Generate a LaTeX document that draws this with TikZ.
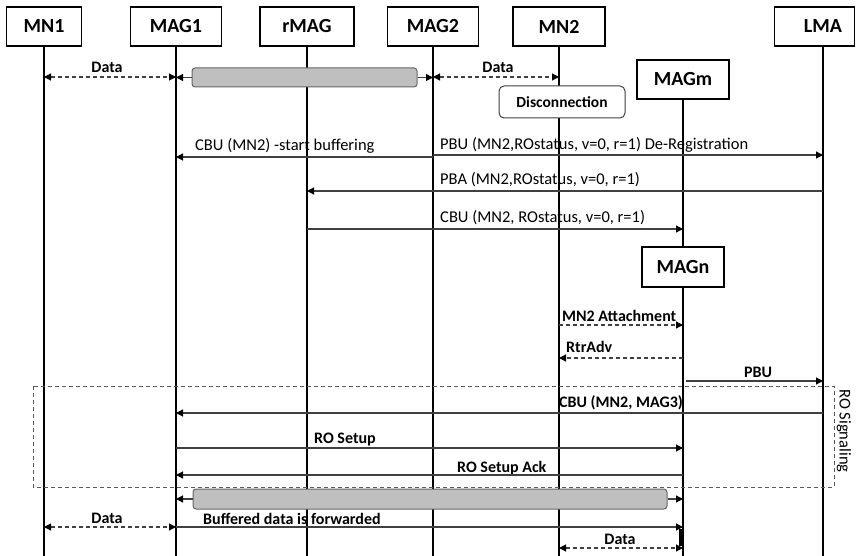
\documentclass[tikz,border=0pt]{standalone}
\usepackage{fontspec}
\setmainfont{Carlito}
\usetikzlibrary{arrows.meta}
\begin{document}
\begin{tikzpicture}[x=1pt,y=-1pt,
  ent/.style={draw=black,line width=1.8pt,fill=white,minimum height=39pt,inner sep=0pt,font=\bfseries\fontsize{20}{22}\selectfont},
  life/.style={draw=black,line width=1.8pt},
  lbl/.style={inner sep=0pt,font=\fontsize{16.5}{18}\selectfont},
  blbl/.style={inner sep=0pt,font=\bfseries\fontsize{16}{18}\selectfont},
  tip/.style={Triangle[length=7pt,width=7pt,color=black]},
  msg/.style={draw=black!75,line width=1.1pt,-{Triangle[length=7pt,width=7pt,color=black]}},
  dmsg/.style={draw=black!75,line width=1.1pt,dash pattern=on 4pt off 3pt,-{Triangle[length=7pt,width=7pt,color=black]}},
  ddmsg/.style={draw=black!75,line width=1.1pt,dash pattern=on 4pt off 3pt,{Triangle[length=7pt,width=7pt,color=black]}-{Triangle[length=7pt,width=7pt,color=black]}},
  bar/.style={draw=black!60,line width=1pt,fill=black!25,rounded corners=3pt,inner sep=0pt},
  roundbox/.style={draw=black!75,line width=1pt,fill=white,rounded corners=5pt,inner sep=0pt,font=\bfseries\fontsize{15.5}{17}\selectfont}
]
\useasboundingbox (0,0) rectangle (856,556);

% participants
\node[ent,minimum width=75pt] (mn1) at (44,26.5) {MN1};
\node[ent,minimum width=91pt] (mag1) at (176,26.5) {MAG1};
\node[ent,minimum width=94pt] (rmag) at (307,26.5) {rMAG};
\node[ent,minimum width=91pt] (mag2) at (433,26.5) {MAG2};
\node[ent,minimum width=92pt] (mn2) at (559,26.5) {MN2};
\node[ent,minimum width=80pt] (lma) at (814.5,26.5) {\hspace*{17pt}LMA};
\node[ent,minimum width=92pt] (magm) at (683,79.5) {MAGm};

% lifeline anchors
\coordinate (lmatop) at (823,46);
\coordinate (bot) at (0,556);

\draw[life] (mn1.south) -- (mn1.south |- bot);
\draw[life] (mag1.south) -- (mag1.south |- bot);
\draw[life] (rmag.south) -- (rmag.south |- bot);
\draw[life] (mag2.south) -- (mag2.south |- bot);
\draw[life] (mn2.south) -- (mn2.south |- bot);
\draw[life] (lmatop) -- (lmatop |- bot);
\draw[life] (magm.south) -- (magm.south |- bot);

% named lifeline x positions
\coordinate (xmn1) at (mn1.south);
\coordinate (xmag1) at (mag1.south);
\coordinate (xrmag) at (rmag.south);
\coordinate (xmag2) at (mag2.south);
\coordinate (xmn2) at (mn2.south);
\coordinate (xmagm) at (magm.south);
\coordinate (xlma) at (lmatop);

% row 1
\draw[ddmsg] (xmn1 |- 0,77) -- (xmag1 |- 0,77);
\node[blbl] (d1) at (107,67) {Data};
\node[bar,minimum width=225pt,minimum height=19pt] (bar1) at (304.5,77.5) {};
\draw[msg] (bar1.west) -- (xmag1 |- bar1.west);
\draw[msg] (bar1.east) -- (xmag2 |- bar1.east);
\draw[ddmsg] (xmag2 |- 0,77) -- (xmn2 |- 0,77);
\node[blbl] (d2) at (498,67) {Data};

\node[roundbox,minimum width=126pt,minimum height=32pt] (disc) at (562,102) {Disconnection};

% signalling
\node[lbl,anchor=west] (l1) at (195,146) {CBU (MN2) -start buffering};
\draw[msg] (xmag2 |- 0,157) -- (xmag1 |- 0,157);
\node[lbl,anchor=west] (l2) at (440,145) {PBU (MN2,ROstatus, v=0, r=1) De-Registration};
\draw[msg] (xmag2 |- 0,155) -- (xlma |- 0,155);
\node[lbl,anchor=west] (l3) at (440,180) {PBA (MN2,ROstatus, v=0, r=1)};
\draw[msg] (xlma |- 0,191) -- (xrmag |- 0,191);
\node[lbl,anchor=west] (l4) at (440,218) {CBU (MN2, ROstatus, v=0, r=1)};
\draw[msg] (xrmag |- 0,229) -- (xmagm |- 0,229);

\node[ent,minimum width=82pt,minimum height=40pt] (magn) at (683,267) {MAGn};

\node[blbl,anchor=west] (l5) at (562,316) {MN2 Attachment};
\draw[dmsg] (xmn2 |- 0,325) -- (xmagm |- 0,325);
\node[blbl,anchor=west] (l6) at (566,347) {RtrAdv};
\draw[dmsg] (xmagm |- 0,358) -- (xmn2 |- 0,358);
\node[blbl] (l7) at (758,372) {PBU};
\draw[msg] (686,381) -- (xlma |- 0,381);

% RO signaling group
\draw[draw=black!65,line width=1pt,dash pattern=on 4pt off 3pt] (33,386) rectangle (834,487);
\node[lbl,rotate=-90] (ros) at (844,431) {RO Signaling};

\node[blbl] (l8) at (621,403) {CBU (MN2, MAG3)};
\draw[msg] (xlma |- 0,413) -- (xmag1 |- 0,413);
\node[blbl,anchor=west] (l9) at (314,440) {RO Setup};
\draw[msg] (xmag1 |- 0,448) -- (xmagm |- 0,448);
\node[blbl,anchor=west] (l10) at (457,468) {RO Setup Ack};
\draw[msg] (xmagm |- 0,475) -- (xmag1 |- 0,475);

% forwarding
\node[bar,minimum width=474pt,minimum height=20pt] (bar2) at (430,499) {};
\draw[msg] (bar2.west) -- (xmag1 |- bar2.west);
\draw[msg] (bar2.east) -- (xmagm |- bar2.east);

\draw[ddmsg] (xmn1 |- 0,527) -- (xmag1 |- 0,527);
\node[blbl] (d3) at (107,518) {Data};
\node[blbl,anchor=west] (l11) at (203,519) {Buffered data is forwarded};
\draw[msg] (xmag1 |- 0,527) -- (xmagm |- 0,527);

\draw[ddmsg] (xmn2 |- 0,548) -- (xmagm |- 0,548);
\node[blbl] (d4) at (620,539) {Data};
\fill[black] (678.5,529) rectangle (683,546);
\end{tikzpicture}
\end{document}
